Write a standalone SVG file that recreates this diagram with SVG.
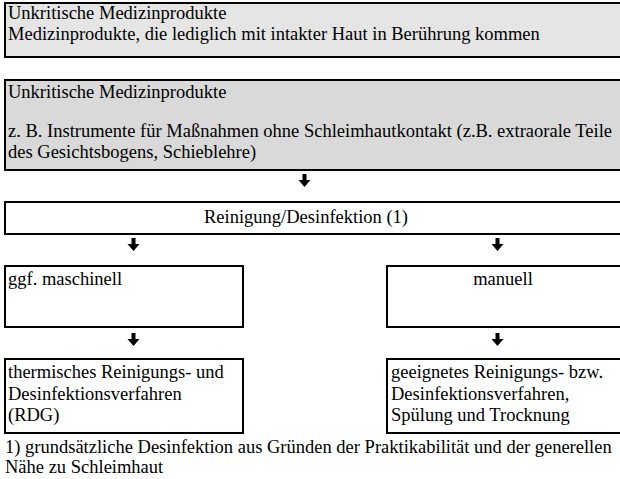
<svg xmlns="http://www.w3.org/2000/svg" width="620" height="479" viewBox="0 0 620 479" font-family="'Liberation Serif', 'DejaVu Serif', serif" font-size="18.5">
<defs>
<style>
text{font-family:'Liberation Serif','DejaVu Serif',serif;font-size:18.5px;fill:#000}
.box{stroke:#000;stroke-width:2;fill:#fff}
.c{text-anchor:middle}
</style>
</defs>
<rect width="620" height="479" fill="#fff"/>
<g id="n1">
<rect class="box" x="5" y="3" width="630" height="54" style="fill:#e5e5e5"/>
<text x="8" y="18.5">Unkritische Medizinprodukte</text>
<text x="8" y="40">Medizinprodukte, die lediglich mit intakter Haut in Berührung kommen</text>
</g>
<g id="n2">
<rect class="box" x="5" y="80" width="630" height="90" style="fill:#d9d9d9"/>
<text x="8" y="98">Unkritische Medizinprodukte</text>
<text x="8" y="137">z. B. Instrumente für Maßnahmen ohne Schleimhautkontakt (z.B. extraorale Teile</text>
<text x="8" y="158">des Gesichtsbogens, Schieblehre)</text>
</g>
<g id="n3">
<rect class="box" x="5" y="202" width="630" height="32"/>
<text class="c" x="306" y="223">Reinigung/Desinfektion (1)</text>
</g>
<g id="n4">
<rect class="box" x="5" y="266" width="238" height="61"/>
<text x="8" y="285">ggf. maschinell</text>
</g>
<g id="n5">
<rect class="box" x="387" y="266" width="250" height="61"/>
<text class="c" x="503" y="285">manuell</text>
</g>
<g id="n6">
<rect class="box" x="5" y="359" width="238" height="74"/>
<text x="8" y="378">thermisches Reinigungs- und</text>
<text x="8" y="400">Desinfektionsverfahren</text>
<text x="8" y="421">(RDG)</text>
</g>
<g id="n7">
<rect class="box" x="387" y="359" width="250" height="74"/>
<text x="391" y="378">geeignetes Reinigungs- bzw.</text>
<text x="391" y="400">Desinfektionsverfahren,</text>
<text x="391" y="421">Spülung und Trocknung</text>
</g>
<g id="note">
<text x="5" y="453">1) grundsätzliche Desinfektion aus Gründen der Praktikabilität und der generellen</text>
<text x="5" y="473">Nähe zu Schleimhaut</text>
</g>
<g id="connectors" fill="#000">
<path d="M302.5 174h4v6h4l-6 7l-6-7h4z"/>
<path d="M131.5 238h4v6h4l-6 7l-6-7h4z"/>
<path d="M495.5 238h4v6h4l-6 7l-6-7h4z"/>
<path d="M131.5 333h4v6h4l-6 7l-6-7h4z"/>
<path d="M495.5 333h4v6h4l-6 7l-6-7h4z"/>
</g>
</svg>
